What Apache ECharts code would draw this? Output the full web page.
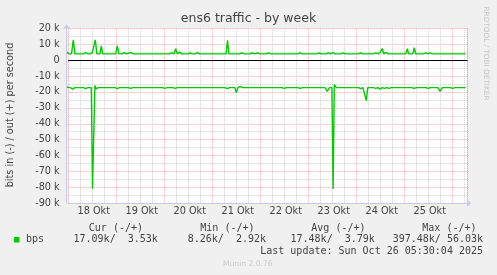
<!DOCTYPE html>
<html><head><meta charset="utf-8">
<script src="https://cdn.jsdelivr.net/npm/echarts@6/dist/echarts.min.js"></script>
<style>html,body{margin:0;padding:0;background:#f0f0f0;}#c{width:497px;height:275px;}</style>
</head><body><div id="c"></div>
<script>
// hours since 18 Okt 00:00
const dayLabels = ['18 Okt','19 Okt','20 Okt','21 Okt','22 Okt','23 Okt','24 Okt','25 Okt'];
const yTicks = [-90,-80,-70,-60,-50,-40,-30,-20,-10,0,10,20];
const outHours = [
  -0.8,0.4,1.6,2.5,3.3, 7.6,8.7,9.8, 10.9,12.0,12.7,13.5,14.3, 15.8,16.5,17.2, 23.7,24.5,25.3,
  26.9,28.0,29.1, 30.1,31.2,32.3, 50.6,51.7,52.8,53.7,54.5,55.6,56.7, 59.8,60.9,62.0,
  63.5,64.6,65.7, 78.9,79.6,80.3, 85.6,86.7,87.8, 90.9,92.0,93.1,94.7,95.8, 98.9,100.0,101.1,
  114.9,116.0,117.1, 124.3,125.4,126.5, 129.0,130.1,131.2,132.3,133.4, 136.4,137.5,138.6,
  145.1,146.2,147.3, 152.6,153.7,154.8,155.9,157.0,157.7,158.8,159.9,
  168.8,169.5,170.2, 172.3,173.0,173.7, 177.6,178.7,179.8,180.9,182.0, 190.0,198.7];
const outK = [
  5.0,3.9,3.9,12.7,3.9, 3.9,4.8,3.9, 3.9,4.7,3.9,12.7,3.9, 3.9,9.0,3.9, 3.9,8.9,3.9,
  3.9,4.7,3.9, 3.9,4.8,3.9, 3.9,4.6,3.9,7.2,3.9,5.0,3.9, 3.9,4.6,3.9,
  3.9,4.7,3.9, 3.9,12.5,3.9, 3.9,4.6,3.9, 3.9,4.6,3.9,4.6,3.9, 3.9,4.5,3.9,
  3.9,4.5,3.9, 3.9,4.5,3.9, 3.9,4.6,3.9,4.7,3.9, 3.9,4.5,3.9,
  3.9,4.6,3.9, 3.9,4.5,3.9,4.8,7.3,3.9,4.9,3.9,
  3.9,7.2,3.9, 3.9,7.9,3.9, 3.9,4.6,3.9,4.6,3.9, 3.9,3.9];
const inHours = [
  -0.8,1.1,2.2,3.3, 7.6,8.7,9.8, 11.5,12.1,12.7,13.3,13.9,15.0, 23.4,24.5,25.6, 30.1,31.2,32.3,
  47.2,48.3,49.4, 52.3,53.4,54.5, 78.4,79.5,80.6, 83.3,84.0,84.8,85.9,87.0, 106.9,108.0,109.1,
  114.9,116.0,117.1, 128.4,129.5,130.6, 131.8,132.4,133.0,134.1, 145.1,146.2,147.3,149.0,149.7,
  152.6,153.7,154.8,155.9,157.0,158.1,159.2,160.3,161.4, 171.8,172.9,174.0, 178.9,180.0,181.1,
  184.8,185.9,187.0, 191.1,192.2,193.3, 198.7];
const inK = [
  -17.0,-17.3,-18.3,-17.3, -17.3,-17.9,-17.3, -17.3,-80.8,-80.8,-15.9,-18.0,-17.3, -17.3,-17.9,-17.3, -17.3,-17.8,-17.3,
  -17.3,-17.8,-17.3, -17.3,-17.8,-17.3, -17.3,-17.9,-17.3, -17.3,-20.6,-17.3,-16.5,-17.3, -17.3,-17.8,-17.3,
  -17.3,-17.8,-17.3, -17.3,-19.6,-17.3, -17.3,-81.0,-15.4,-17.3, -17.3,-17.9,-17.3,-25.5,-17.3,
  -17.3,-17.8,-17.3,-18.3,-17.3,-17.8,-17.3,-17.8,-17.3, -17.3,-17.8,-17.3, -17.3,-17.8,-17.3,
  -17.3,-19.6,-17.3, -17.3,-17.8,-17.3, -17.3];
const legendHeaders = ['Cur (-/+)','Min (-/+)','Avg (-/+)','Max (-/+)'];
const legendValues = ['17.09k/  3.53k','8.26k/  2.92k','17.48k/  3.79k','397.48k/ 56.03k'];
const seriesName = 'bps';
const lastUpdate = 'Last update: Sun Oct 26 05:30:04 2025';

const outData = outHours.map((h,i)=>[h,outK[i]]);
const inData = inHours.map((h,i)=>[h,inK[i]]);

const SANS = 'DejaVu Sans';
const TXT = '#444';
const RED = 'rgba(240,110,110,0.6)';
const GREY = '#cccccc';
const AX = '#c8c8e8';
const X0 = 68.3, XR = 467.3, YT = 28.3, YB = 203.3;
const XMAX = (XR - X0) / 2;

const chart = echarts.init(document.getElementById('c'));
const headerRight = [143, 254.5, 365.5, 476.5];
const valueRight = [157.8, 266, 374.8, 483];
const graphics = [
  {type:'text', x:248.5, y:19, style:{text:'ens6 traffic - by week', font:'12.5px "DejaVu Sans"', fill:TXT, align:'center', verticalAlign:'middle'}},
  {type:'text', x:10.7, y:115, rotation:Math.PI/2, style:{text:'bits in (-) / out (+) per second', font:'9.7px "DejaVu Sans"', fill:TXT, align:'center', verticalAlign:'middle'}},
  {type:'text', x:485.7, y:53.5, rotation:-Math.PI/2, style:{text:'RRDTOOL / TOBI OETIKER', font:'7.3px "DejaVu Sans"', fill:'#c8c8c8', align:'center', verticalAlign:'middle'}},
  {type:'rect', shape:{x:14, y:237, width:5.5, height:5.5}, style:{fill:'#00cc00'}},
  {type:'text', x:26, y:239.5, style:{text:seriesName, font:'10px "DejaVu Sans Mono"', fill:TXT, align:'left', verticalAlign:'middle'}},
  {type:'text', x:483, y:251.3, style:{text:lastUpdate, font:'10px "DejaVu Sans Mono"', fill:TXT, align:'right', verticalAlign:'middle'}},
  {type:'text', x:223, y:264.5, style:{text:'Munin 2.0.76', font:'7.6px "DejaVu Sans"', fill:'#cccccc', align:'left', verticalAlign:'middle'}}
];
legendHeaders.forEach((t,i)=>graphics.push({type:'text', x:headerRight[i], y:228, style:{text:t, font:'10px "DejaVu Sans Mono"', fill:TXT, align:'right', verticalAlign:'middle'}}));
legendValues.forEach((t,i)=>graphics.push({type:'text', x:valueRight[i], y:239.5, style:{text:t, font:'10px "DejaVu Sans Mono"', fill:TXT, align:'right', verticalAlign:'middle'}}));

const dotted = [1,1];
chart.setOption({
  animation:false,
  backgroundColor:'#f0f0f0',
  grid:{left:X0, right:497-XR, top:YT, bottom:275-YB, show:true, backgroundColor:'#ffffff', borderWidth:0},
  xAxis:[
    {type:'value', position:'bottom', min:0, max:XMAX, interval:6,
     axisLine:{show:true, onZero:false, lineStyle:{color:AX, width:1}, symbol:['none','arrow'], symbolSize:[6,5], symbolOffset:[0,4]},
     axisTick:{show:false}, axisLabel:{show:false},
     splitLine:{show:true, lineStyle:{color:['rgba(0,0,0,0)',GREY,GREY,GREY], type:dotted, width:1}}},
    {type:'value', position:'bottom', min:0, max:XMAX, interval:24,
     axisLine:{show:false}, axisTick:{show:true, length:2, lineStyle:{color:RED}}, axisLabel:{show:false},
     splitLine:{show:true, lineStyle:{color:RED, type:dotted, width:1}}},
    {type:'value', position:'bottom', min:0, max:XMAX, interval:12,
     axisLine:{show:false}, axisTick:{show:false}, splitLine:{show:false},
     axisLabel:{show:true, margin:3.5, padding:[0,0,0,3], fontFamily:SANS, fontSize:9.7, color:TXT,
       formatter:v=> (v%24===12) ? (dayLabels[(v-12)/24]||'') : ''}}
  ],
  yAxis:[
    {type:'value', position:'left', min:-90, max:20, interval:10, offset:1.6,
     axisLine:{show:true, onZero:false, lineStyle:{color:AX, width:1}, symbol:['none','arrow'], symbolSize:[6,5], symbolOffset:[0,4]},
     axisTick:{show:false},
     axisLabel:{show:true, margin:7, fontFamily:SANS, fontSize:9.7, color:TXT,
       formatter:v=> yTicks.indexOf(v)>=0 ? (v===0?'0':v+' k') : ''},
     splitLine:{show:false}},
    {type:'value', position:'left', min:-90, max:20, interval:10,
     axisLine:{show:false}, axisTick:{show:false}, axisLabel:{show:false},
     splitLine:{show:true, lineStyle:{color:RED, type:dotted, width:1}}},
    {type:'value', position:'left', min:-90, max:20, interval:5,
     axisLine:{show:false}, axisTick:{show:false}, axisLabel:{show:false},
     splitLine:{show:true, lineStyle:{color:['rgba(0,0,0,0)',GREY], type:dotted, width:1}}}
  ],
  series:[
    {type:'line', name:'out', data:outData, xAxisIndex:0, yAxisIndex:0, showSymbol:false, clip:false,
     lineStyle:{color:'#00cc00', width:1.4}, itemStyle:{color:'#00cc00'},
     markLine:{silent:true, symbol:'none', label:{show:false}, lineStyle:{color:'#000000', type:'solid', width:1}, data:[{yAxis:0}]}},
    {type:'line', name:'in', data:inData, xAxisIndex:0, yAxisIndex:0, showSymbol:false, clip:false,
     lineStyle:{color:'#00cc00', width:1.4}, itemStyle:{color:'#00cc00'}}
  ],
  graphic:graphics
});
</script></body></html>
